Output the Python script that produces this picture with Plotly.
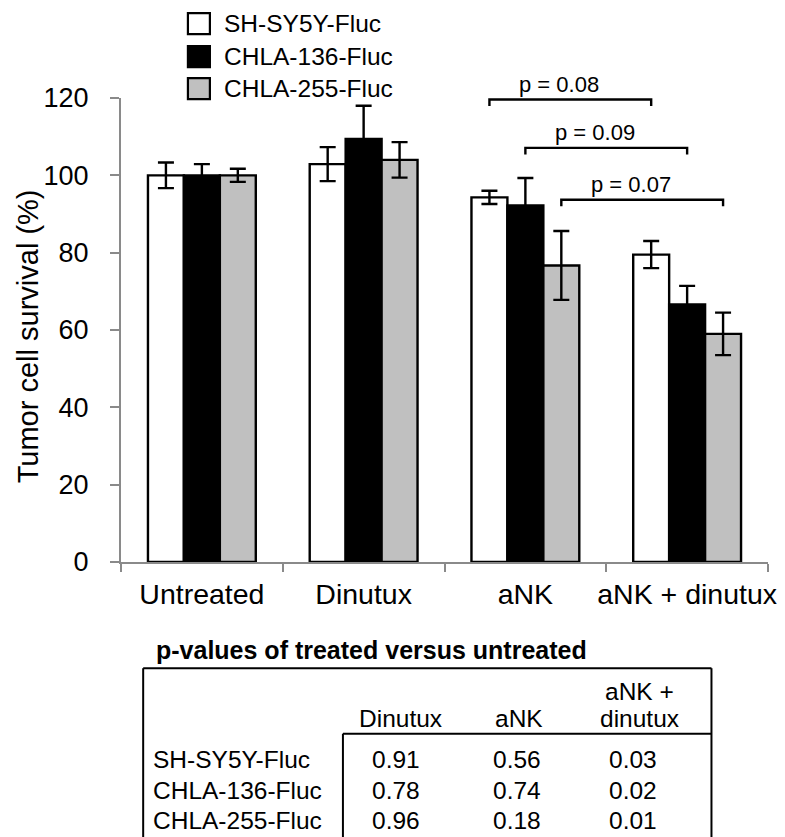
import plotly.graph_objects as go

# ---------------- data ----------------
categories = ["Untreated", "Dinutux", "aNK", "aNK + dinutux"]
series_names = ["SH-SY5Y-Fluc", "CHLA-136-Fluc", "CHLA-255-Fluc"]
sh_sy5y = [100.0, 102.9, 94.3, 79.5]
sh_sy5y_err = [3.3, 4.4, 1.7, 3.5]
chla136 = [100.0, 109.4, 92.2, 66.6]
chla136_err = [2.9, 8.6, 7.1, 4.8]
chla255 = [100.0, 104.0, 76.7, 59.0]
chla255_err = [1.7, 4.6, 8.9, 5.5]
y_ticks = [0, 20, 40, 60, 80, 100, 120]
y_title = "Tumor cell survival (%)"

# pairwise comparisons: (series index, category a, category b, label)
comparisons = [
    (0, "aNK", "aNK + dinutux", "p = 0.08"),
    (1, "aNK", "aNK + dinutux", "p = 0.09"),
    (2, "aNK", "aNK + dinutux", "p = 0.07"),
]

table_title = "p-values of treated versus untreated"
table_headers = [["Dinutux"], ["aNK"], ["aNK +", "dinutux"]]
p_sh_sy5y = ["0.91", "0.56", "0.03"]
p_chla136 = ["0.78", "0.74", "0.02"]
p_chla255 = ["0.96", "0.18", "0.01"]

# ---------------- styling / layout ----------------
OFF = 8                      # page body margin in the browser
W, H = 785 - OFF, 837 - OFF
L, R, T, B = 120.5, 768.3, 98.3, 562.3   # plot area in window pixels
PW, PH = R - L, B - T
FONT = "Liberation Sans, Arial, sans-serif"
fills = ["#ffffff", "#000000", "#c0c0c0"]
AX = "#8a8a8a"
BARGAP = 1/3


def px(x):
    return (x - L) / PW


def py(y):
    return (B - y) / PH


values = [sh_sy5y, chla136, chla255]
errors = [sh_sy5y_err, chla136_err, chla255_err]

fig = go.Figure()
for name, v, e, c in zip(series_names, values, errors, fills):
    fig.add_trace(go.Bar(
        x=categories, y=v, name=name, showlegend=False,
        marker=dict(color=c, line=dict(color="#000000", width=2.4)),
        error_y=dict(type="data", array=e, visible=True, color="#000000",
                     thickness=2.4, width=8),
    ))

shapes = []
annotations = []

# comparison brackets
bar_w = (1 - BARGAP) / 3
levels = [119.6, 107.1, 93.7]
drop = 1.7
for (si, ca, cb, lab), lev in zip(comparisons, levels):
    xa = categories.index(ca) + (si - 1) * bar_w
    xb = categories.index(cb) + (si - 1) * bar_w
    shapes.append(dict(type="path", xref="x", yref="y",
                       path=f"M {xa},{lev - drop} L {xa},{lev} L {xb},{lev} L {xb},{lev - drop}",
                       line=dict(color="#000000", width=2.4)))
    annotations.append(dict(x=(xa + xb) / 2, y=lev, xref="x", yref="y", text=lab,
                            showarrow=False, xshift=-11, yshift=15, yanchor="middle",
                            font=dict(family=FONT, size=22, color="#000000")))

# custom legend
leg_y = [24, 57, 89]
for name, c, yy in zip(series_names, fills, leg_y):
    shapes.append(dict(type="rect", xref="paper", yref="paper",
                       x0=px(187.5), x1=px(209.5), y0=py(yy - 10.5), y1=py(yy + 10.5),
                       fillcolor=c, line=dict(color="#000000", width=2.2)))
    annotations.append(dict(x=px(222), y=py(yy), xref="paper", yref="paper", text=name,
                            showarrow=False, xanchor="left", yanchor="middle",
                            font=dict(family=FONT, size=24.5, color="#000000")))

# y-axis title
annotations.append(dict(x=px(27), y=py(337), xref="paper", yref="paper", text=y_title,
                        textangle=-90, showarrow=False, xanchor="center", yanchor="middle",
                        font=dict(family=FONT, size=29, color="#000000")))

# ---------------- table ----------------
annotations.append(dict(x=px(154), y=py(650), xref="paper", yref="paper",
                        text="<b>" + table_title + "</b>", showarrow=False,
                        xanchor="left", yanchor="middle",
                        font=dict(family=FONT, size=25, color="#000000")))
box_l, box_r, box_t = 142.7, 711.7, 668.5
in_l, in_t = 342.7, 734
bottom = 900
tl = dict(color="#000000", width=2)
for (x0, y0, x1, y1) in [(box_l, box_t, box_r, box_t), (box_l, box_t, box_l, bottom),
                         (box_r, box_t, box_r, bottom), (in_l, in_t, box_r, in_t),
                         (in_l, in_t, in_l, bottom)]:
    shapes.append(dict(type="line", xref="paper", yref="paper",
                       x0=px(x0), y0=py(y0), x1=px(x1), y1=py(y1), line=tl))

head_x = [400, 519, 640]
val_x = [396, 517, 633]
head_last_y = 719
line_gap = 27
TF = 24.5
for lines, hx in zip(table_headers, head_x):
    n = len(lines)
    for k, t in enumerate(lines):
        yy = head_last_y - (n - 1 - k) * line_gap
        annotations.append(dict(x=px(hx), y=py(yy), xref="paper", yref="paper", text=t,
                                showarrow=False, xanchor="center", yanchor="middle",
                                font=dict(family=FONT, size=TF, color="#000000")))

row_y = [760, 790.5, 821]
for name, pv, yy in zip(series_names, [p_sh_sy5y, p_chla136, p_chla255], row_y):
    annotations.append(dict(x=px(151), y=py(yy), xref="paper", yref="paper", text=name,
                            showarrow=False, xanchor="left", yanchor="middle",
                            font=dict(family=FONT, size=TF, color="#000000")))
    for v, vx in zip(pv, val_x):
        annotations.append(dict(x=px(vx), y=py(yy), xref="paper", yref="paper", text=v,
                                showarrow=False, xanchor="center", yanchor="middle",
                                font=dict(family=FONT, size=TF, color="#000000")))

fig.update_layout(
    width=W, height=H,
    margin=dict(l=L - OFF, r=785 - R, t=T - OFF, b=837 - B, pad=0),
    paper_bgcolor="#ffffff", plot_bgcolor="#ffffff",
    barmode="group", bargap=BARGAP, bargroupgap=0,
    font=dict(family=FONT, color="#000000"),
    shapes=shapes, annotations=annotations,
    xaxis=dict(type="category", range=[-0.5, 3.5], showline=True, linecolor=AX, linewidth=2,
               ticks="outside", tickson="boundaries", ticklen=8, tickwidth=2, tickcolor=AX,
               showgrid=False, zeroline=False, automargin=False, tickangle=0,
               ticklabelstandoff=6,
               tickfont=dict(family=FONT, size=28.5, color="#000000")),
    yaxis=dict(range=[0, 120], tickvals=y_ticks, showline=True, linecolor=AX, linewidth=2,
               ticks="outside", ticklen=9, tickwidth=2, tickcolor=AX,
               showgrid=False, zeroline=False, automargin=False,
               ticklabelstandoff=16,
               tickfont=dict(family=FONT, size=27, color="#000000")),
)

fig.write_html("out.html")
